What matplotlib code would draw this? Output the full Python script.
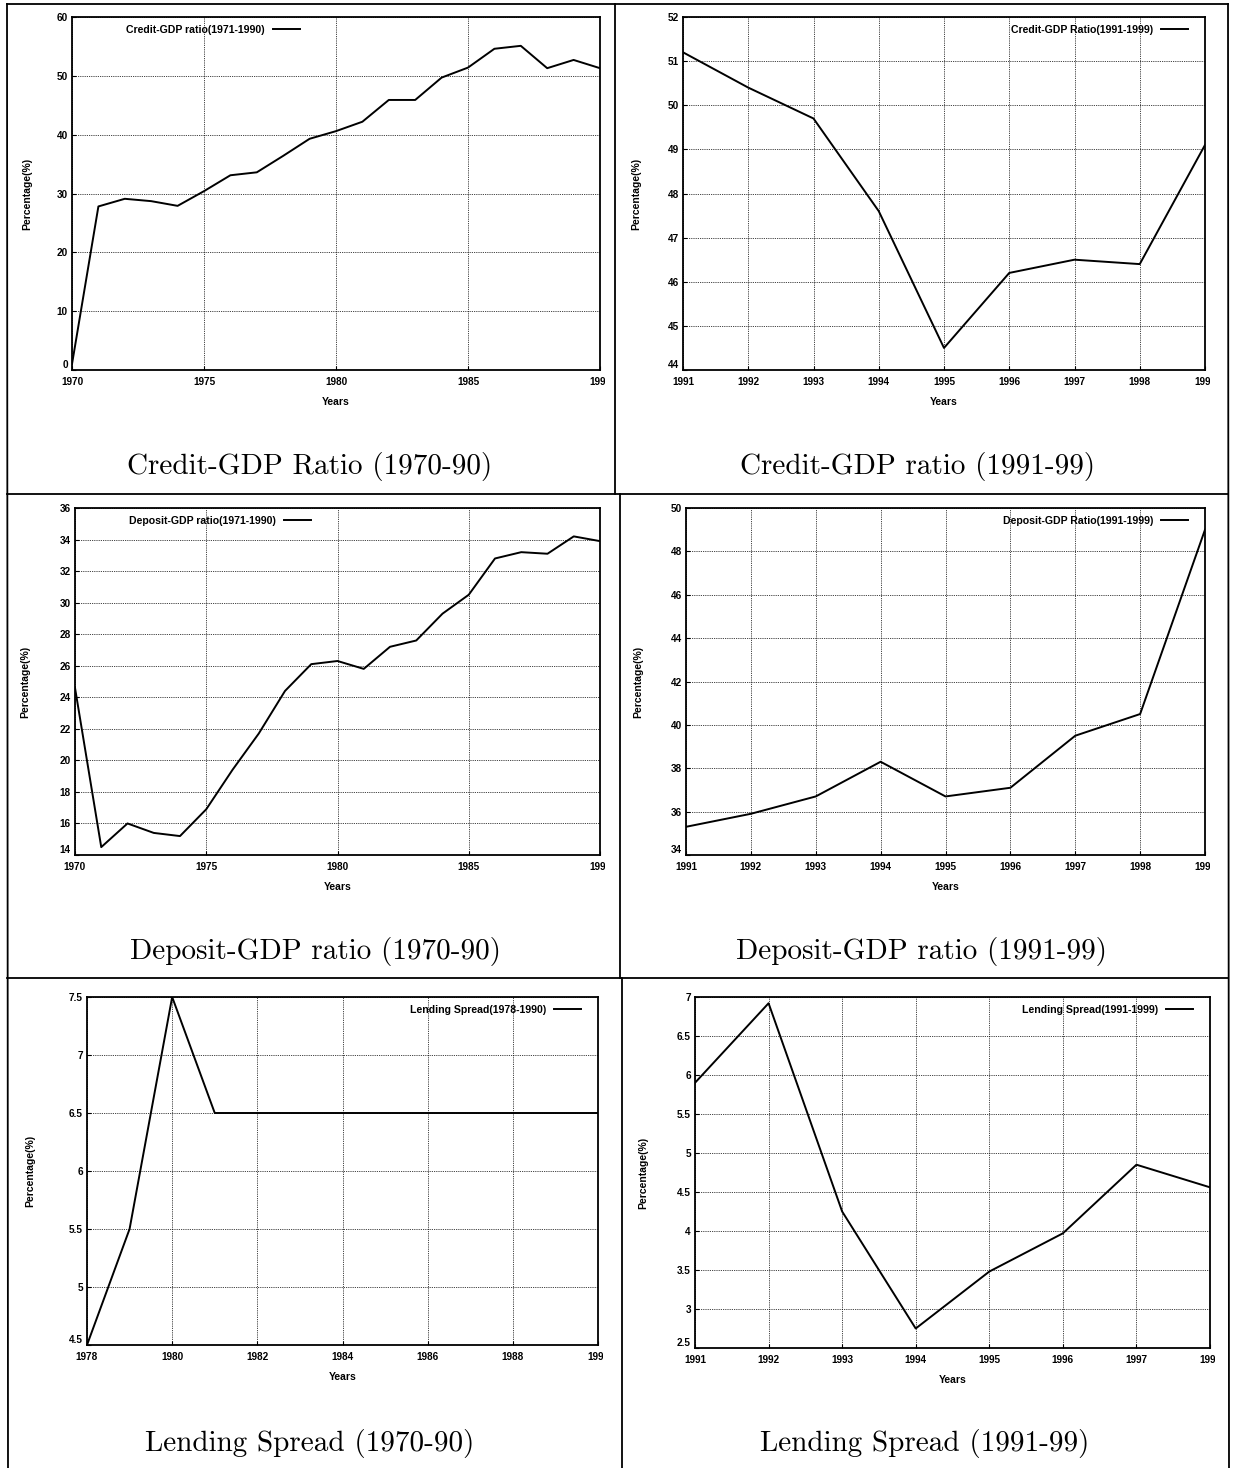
import matplotlib
matplotlib.use("Agg")
import matplotlib.pyplot as plt
from matplotlib.lines import Line2D
from matplotlib.transforms import Bbox

# ---------------- data ----------------
years_a = list(range(1970, 1991))
credit_a = [1.0, 27.8, 29.1, 28.7, 27.9, 30.4, 33.1, 33.6, 36.4, 39.3, 40.6,
            42.2, 45.9, 45.9, 49.7, 51.4, 54.6, 55.1, 51.3, 52.7, 51.3]

years_b = list(range(1991, 2000))
credit_b = [51.2, 50.4, 49.7, 47.6, 44.5, 46.2, 46.5, 46.4, 49.1]

deposit_a = [24.6, 14.5, 16.0, 15.4, 15.2, 16.9, 19.4, 21.7, 24.4, 26.1, 26.3,
             25.8, 27.2, 27.6, 29.3, 30.5, 32.8, 33.2, 33.1, 34.2, 33.9]

deposit_b = [35.3, 35.9, 36.7, 38.3, 36.7, 37.1, 39.5, 40.5, 49.0]

years_c = list(range(1978, 1991))
spread_a = [4.5, 5.5, 7.5, 6.5, 6.5, 6.5, 6.5, 6.5, 6.5, 6.5, 6.5, 6.5, 6.5]

years_d = list(range(1991, 1999))
spread_b = [5.9, 6.92, 4.25, 2.75, 3.48, 3.97, 4.85, 4.56]

titles = ["Credit-GDP Ratio (1970-90)", "Credit-GDP ratio (1991-99)",
          "Deposit-GDP ratio (1970-90)", "Deposit-GDP ratio (1991-99)",
          "Lending Spread (1970-90)", "Lending Spread (1991-99)"]
legends = ["Credit-GDP ratio(1971-1990)", "Credit-GDP Ratio(1991-1999)",
           "Deposit-GDP ratio(1971-1990)", "Deposit-GDP Ratio(1991-1999)",
           "Lending Spread(1978-1990)", "Lending Spread(1991-1999)"]

W, H = 1233, 1468
fig = plt.figure(figsize=(W / 100, H / 100), dpi=100)
fig.patch.set_facecolor("white")

TICKFONT = dict(family="Liberation Sans", weight="bold", size=7.2)
LABFONT = dict(family="Liberation Sans", weight="bold", size=7.5)


def px_axes(x0, x1, y0, y1):
    return fig.add_axes([x0 / W, 1 - y1 / H, (x1 - x0) / W, (y1 - y0) / H])


panels = [
    # x0, x1, y0, y1, xs, ys, xlim, xticks, ylim, yticks, legend side, ylabel x
    (72, 600, 17, 370, years_a, credit_a, (1970, 1990), range(1970, 1991, 5),
     (0, 60), range(0, 61, 10), "left", 32),
    (683, 1205, 17, 370, years_b, credit_b, (1991, 1999), range(1991, 2000),
     (44, 52), range(44, 53), "right", 641),
    (75, 600, 508, 855, years_a, deposit_a, (1970, 1990), range(1970, 1991, 5),
     (14, 36), range(14, 37, 2), "left", 30),
    (686, 1205, 508, 855, years_b, deposit_b, (1991, 1999), range(1991, 2000),
     (34, 50), range(34, 51, 2), "right", 643),
    (87, 598, 997, 1345, years_c, spread_a, (1978, 1990), range(1978, 1991, 2),
     (4.5, 7.5), [4.5, 5, 5.5, 6, 6.5, 7, 7.5], "right", 35),
    (695, 1210, 997, 1348, years_d, spread_b, (1991, 1998), range(1991, 1999),
     (2.5, 7), [2.5, 3, 3.5, 4, 4.5, 5, 5.5, 6, 6.5, 7], "right", 648),
]

title_pos = [(310, 466), (918, 466), (315, 952), (922, 952), (310, 1443), (925, 1443)]

for i, (x0, x1, y0, y1, xs, ys, xl, xt, yl, yt, side, ylx) in enumerate(panels):
    ax = px_axes(x0, x1, y0, y1)
    ax.plot(xs, ys, color="black", lw=1.4, label=legends[i])
    ax.set_xlim(*xl)
    ax.set_ylim(*yl)
    ax.set_xticks(list(xt))
    ax.set_yticks(list(yt))
    ylabs = [("%g" % v) for v in yt]
    ax.set_yticklabels(ylabs, fontdict=TICKFONT)
    ax.set_xticklabels([str(v) for v in xt], fontdict=TICKFONT)
    ax.grid(True, color="black", linestyle=(0, (1, 1.2)), lw=0.6)
    for s in ax.spines.values():
        s.set_linewidth(1.3)
    ax.tick_params(direction="in", length=3, width=0.8, top=False, right=False)
    ax.tick_params(axis="x", pad=5)
    ax.tick_params(axis="y", pad=3)
    # lowest y label sits just above the corner, as in the scan
    ax.get_yticklabels()[0].set_verticalalignment("bottom")
    ax.set_xlabel("Years", fontdict=LABFONT, labelpad=7)
    ax.set_ylabel("Percentage(%)", fontdict=LABFONT)
    ax.yaxis.set_label_coords((ylx - x0) / (x1 - x0), 0.5)
    # clip last x tick label near the axes right edge (as in the scan)
    fig.canvas.draw()
    lab = ax.get_xticklabels()[-1]
    lab.set_clip_on(True)
    lab.set_clip_box(Bbox.from_extents(0, 0, x1 + 5, H))
    prop = dict(family="Liberation Sans", weight="bold", size=7.6)
    if side == "left":
        ax.legend(loc="upper left", bbox_to_anchor=(0.085, 1.005), frameon=False,
                  markerfirst=False, handlelength=2.5, handletextpad=0.8, prop=prop)
    else:
        ax.legend(loc="upper right", bbox_to_anchor=(0.985, 1.005), frameon=False,
                  markerfirst=False, handlelength=2.5, handletextpad=0.8, prop=prop)
    tx, ty = title_pos[i]
    fig.text(tx / W, 1 - ty / H, titles[i], ha="center", va="center",
             family="cmr10", size=21)

# panel borders
def fline(xa, ya, xb, yb, lw=1.3):
    fig.add_artist(Line2D([xa / W, xb / W], [1 - ya / H, 1 - yb / H],
                          color="black", lw=lw, transform=fig.transFigure))

fline(7, 4, 1228, 4)
fline(7, 4, 8, 1468)
fline(1228, 4, 1229, 1468)
fline(7, 494, 1228, 494)
fline(7, 978, 1228, 978)
fline(615, 4, 615, 494)
fline(620, 494, 620, 978)
fline(622, 978, 622, 1468)

fig.savefig("out.png", dpi=100, facecolor="white")
